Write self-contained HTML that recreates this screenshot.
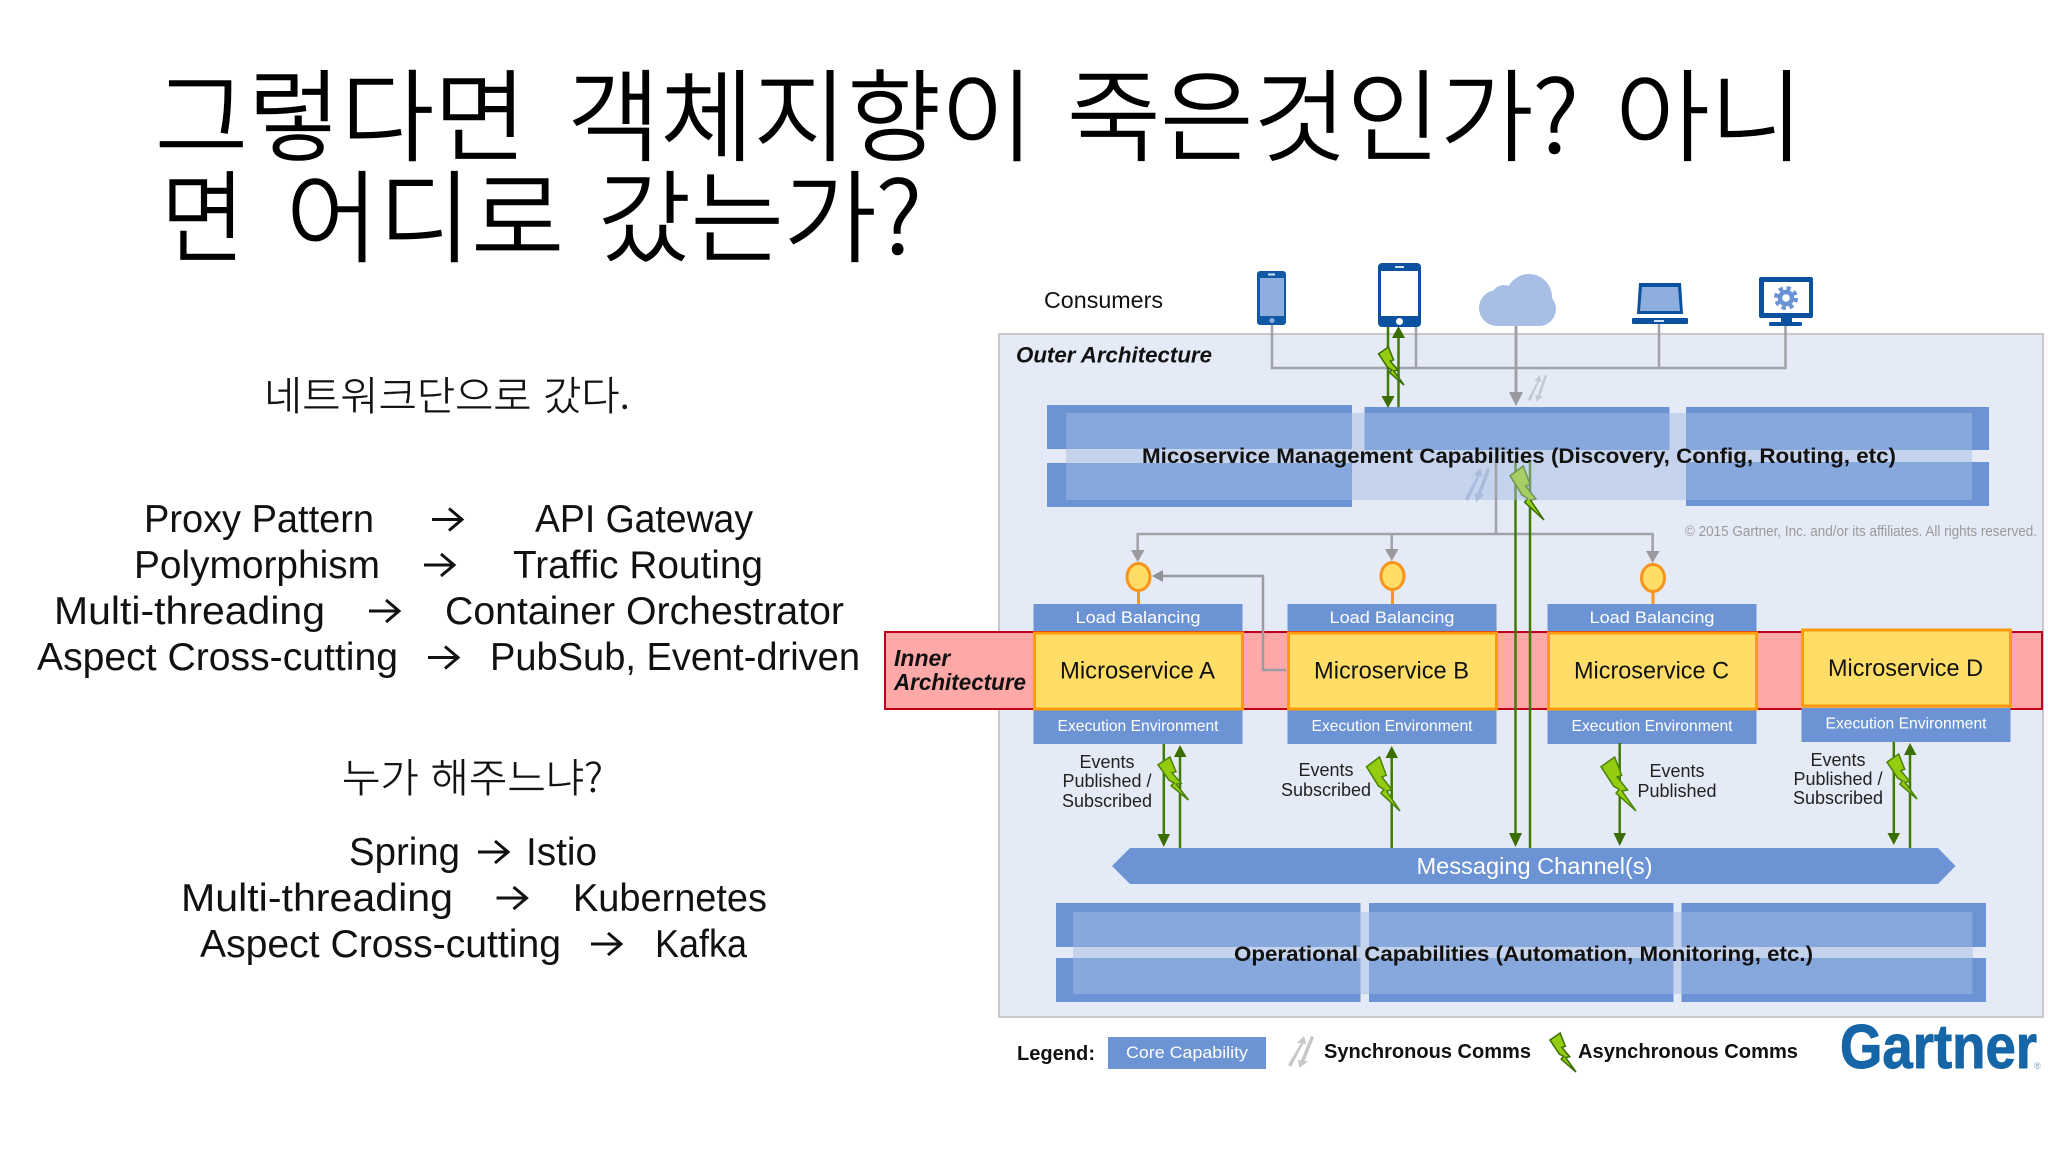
<!DOCTYPE html>
<html lang="ko"><head><meta charset="utf-8"><title>Microservice Architecture</title>
<style>
html,body{margin:0;padding:0;background:#fff;width:2048px;height:1152px;overflow:hidden}
svg{display:block}
text{font-family:"Liberation Sans",sans-serif}
.k{font-family:"Noto Sans CJK KR","NanumGothic",sans-serif;font-weight:300}
.t{font-size:100px;fill:#000;stroke:#000;stroke-width:1.6px}
.l{font-size:39px;fill:#111}
.lk{font-size:40px;fill:#111;stroke:#111;stroke-width:.4px}
.w{fill:#fff}
.lb{font-size:17px;fill:#fff}
.ex{font-size:16px;fill:#fff}
.ms{font-size:24px;fill:#111}
.ev{font-size:18px;fill:#222;text-anchor:middle}
.b{font-weight:bold;fill:#111}
</style></head><body>
<svg width="2048" height="1152" viewBox="0 0 2048 1152" xmlns="http://www.w3.org/2000/svg">
<defs>
<polygon id="bolt" points="0,.18 .39,0 .59,.34 .46,.37 .76,.61 .6,.63 1,1 .43,.67 .52,.6 .36,.54" vector-effect="non-scaling-stroke"/>
<g id="sync" fill="currentColor" stroke="none">
<polygon points="0,.9 .5,.22 .34,.22 .62,0 .7,.26 .58,.24 .12,.97"/>
<polygon points="1,.04 .64,.78 .78,.78 .44,1 .38,.74 .5,.76 .88,0"/>
</g>
<path id="arw" d="M0 0H29M17 -11L30 0L17 11" fill="none" stroke="#111" stroke-width="3"/>
</defs>
<rect width="2048" height="1152" fill="#fff"/>

<!-- Title -->
<text class="k t" x="155" y="153" textLength="372" lengthAdjust="spacingAndGlyphs">그렇다면</text>
<text class="k t" x="567" y="153" textLength="467" lengthAdjust="spacingAndGlyphs">객체지향이</text>
<text class="k t" x="1067" y="153" textLength="512" lengthAdjust="spacingAndGlyphs">죽은것인가?</text>
<text class="k t" x="1615" y="153" textLength="189" lengthAdjust="spacingAndGlyphs">아니</text>
<text class="k t" x="161" y="254" textLength="84" lengthAdjust="spacingAndGlyphs">면</text>
<text class="k t" x="286" y="254" textLength="278" lengthAdjust="spacingAndGlyphs">어디로</text>
<text class="k t" x="598" y="254" textLength="324" lengthAdjust="spacingAndGlyphs">갔는가?</text>

<!-- Left text -->
<text class="k lk" x="264" y="410" textLength="366" lengthAdjust="spacingAndGlyphs">네트워크단으로 갔다.</text>
<text class="l" x="144" y="532" textLength="230" lengthAdjust="spacingAndGlyphs">Proxy Pattern</text>
<use href="#arw" x="432" y="519.500"/>
<text class="l" x="535" y="532" textLength="218" lengthAdjust="spacingAndGlyphs">API Gateway</text>
<text class="l" x="134" y="578" textLength="246" lengthAdjust="spacingAndGlyphs">Polymorphism</text>
<use href="#arw" x="424" y="565"/>
<text class="l" x="513" y="578" textLength="250" lengthAdjust="spacingAndGlyphs">Traffic Routing</text>
<text class="l" x="54" y="624" textLength="271" lengthAdjust="spacingAndGlyphs">Multi-threading</text>
<use href="#arw" x="369" y="611"/>
<text class="l" x="445" y="624" textLength="399" lengthAdjust="spacingAndGlyphs">Container Orchestrator</text>
<text class="l" x="37" y="670" textLength="361" lengthAdjust="spacingAndGlyphs">Aspect Cross-cutting</text>
<use href="#arw" x="428" y="657.500"/>
<text class="l" x="490" y="670" textLength="370" lengthAdjust="spacingAndGlyphs">PubSub, Event-driven</text>
<text class="k lk" x="342" y="792" textLength="261" lengthAdjust="spacingAndGlyphs">누가 해주느냐?</text>
<text class="l" x="349" y="865" textLength="111" lengthAdjust="spacingAndGlyphs">Spring</text>
<use href="#arw" x="478" y="852"/>
<text class="l" x="526" y="865" textLength="71" lengthAdjust="spacingAndGlyphs">Istio</text>
<text class="l" x="181" y="911" textLength="272" lengthAdjust="spacingAndGlyphs">Multi-threading</text>
<use href="#arw" x="496.500" y="898"/>
<text class="l" x="573" y="911" textLength="194" lengthAdjust="spacingAndGlyphs">Kubernetes</text>
<text class="l" x="200" y="957" textLength="361" lengthAdjust="spacingAndGlyphs">Aspect Cross-cutting</text>
<use href="#arw" x="591" y="944"/>
<text class="l" x="655" y="957" textLength="92" lengthAdjust="spacingAndGlyphs">Kafka</text>

<!-- Outer architecture -->
<rect x="999" y="334" width="1044" height="683" fill="#e4eaf6" stroke="#c9c9c9" stroke-width="2"/>
<text x="1044" y="308" font-size="23" fill="#111" textLength="119" lengthAdjust="spacingAndGlyphs">Consumers</text>
<text x="1016" y="362.500" font-size="22" font-weight="bold" font-style="italic" fill="#111" textLength="196" lengthAdjust="spacingAndGlyphs">Outer Architecture</text>

<!-- Consumer icons -->
<rect x="1257" y="271" width="29" height="54" rx="3" fill="#1158a6"/>
<rect x="1260" y="278" width="24" height="38" fill="#8eaedd"/>
<circle cx="1272" cy="320.500" r="2.500" fill="#8eaedd"/>
<rect x="1268" y="273.500" width="7" height="2" fill="#cfe0f5"/>
<rect x="1378" y="263" width="43" height="64" rx="4" fill="#0a52a0"/>
<rect x="1381" y="271" width="37" height="45" fill="#fff"/>
<circle cx="1399.500" cy="321.500" r="3.500" fill="#fff"/>
<rect x="1395" y="266" width="9" height="2" fill="#cfe0f5"/>
<g fill="#a8bee4">
<circle cx="1504" cy="298" r="13"/><circle cx="1529" cy="297" r="23"/><circle cx="1497" cy="308" r="18"/><circle cx="1539" cy="309" r="17"/>
<rect x="1497" y="305" width="42" height="21"/>
</g>
<path d="M1639 283H1681L1683 314H1637Z" fill="#0a52a0"/>
<path d="M1642 287H1678L1680 311H1640Z" fill="#8eaedd"/>
<rect x="1632" y="318" width="56" height="6" rx="1" fill="#0a52a0"/>
<rect x="1654" y="320" width="10" height="2" fill="#cfe0f5"/>
<rect x="1759" y="277" width="54" height="41" rx="2" fill="#0a52a0"/>
<rect x="1764" y="282" width="45" height="31" fill="#fff"/>
<rect x="1781" y="318" width="11" height="5" fill="#0a52a0"/>
<rect x="1769" y="322" width="33" height="4" rx="1.500" fill="#0a52a0"/>
<circle cx="1786" cy="298" r="9.500" fill="none" stroke="#6a93d5" stroke-width="5" stroke-dasharray="4 3.500"/>
<circle cx="1786" cy="298" r="6" fill="none" stroke="#6a93d5" stroke-width="4.500"/>

<!-- Gray top connectors -->
<g fill="none" stroke="#a0a2a8" stroke-width="2.500">
<path d="M1272 325V368H1785.500V326"/>
<path d="M1416 327V368M1659 324V368"/>
<path d="M1516 326V396" stroke-width="3"/>
</g>
<polygon points="1509,392 1523,392 1516,406" fill="#9a9a9e"/>
<use href="#sync" transform="translate(1528,375) scale(19,27)" color="#c3c8d4"/>

<!-- Management capabilities -->
<rect x="1066" y="413" width="906" height="87" fill="#c5d3ec"/>
<g fill="#6c93d3">
<rect x="1047" y="405" width="305" height="44"/><rect x="1047" y="463" width="305" height="44"/>
<rect x="1364.500" y="407" width="305" height="43"/>
<rect x="1686" y="407" width="303" height="43"/><rect x="1686" y="462" width="303" height="44"/>
</g>
<g fill="#87a8dd">
<rect x="1066" y="413" width="286" height="36"/><rect x="1066" y="463" width="286" height="37"/>
<rect x="1364.500" y="413" width="305" height="37"/>
<rect x="1686" y="413" width="286" height="37"/><rect x="1686" y="462" width="286" height="38"/>
</g>

<!-- Top green links -->
<g stroke="#3f7a08" stroke-width="2.500" fill="none">
<path d="M1388 327V398"/><path d="M1398.500 338V407"/>
</g>
<polygon points="1381.500,396 1394.500,396 1388,408" fill="#3a6e00"/>
<polygon points="1392,338 1405,338 1398.500,326" fill="#3a6e00"/>
<use href="#bolt" transform="translate(1378.500,347) scale(25.500,38)" fill="#93cc10" stroke="#3a6e00" stroke-width="1.500"/>

<!-- Lower gray tree and central lines -->
<g fill="none" stroke="#a0a2a8" stroke-width="2.500">
<path d="M1496 460V534"/>
<path d="M1137.700 552V534H1652.600V552M1391.700 534V552"/>
</g>
<g fill="#9a9a9e">
<polygon points="1131,550 1144.500,550 1137.700,562"/>
<polygon points="1385,549 1398.500,549 1391.700,561"/>
<polygon points="1646,551 1659.500,551 1652.600,563"/>
</g>

<!-- Red band -->
<rect x="885" y="632" width="1157" height="77" fill="#ffa8a8" stroke="#c00018" stroke-width="2"/>
<path d="M1286 670H1263V576H1160" fill="none" stroke="#9a9ca2" stroke-width="2.500"/>
<polygon points="1163,570 1163,582 1152,576" fill="#8f9197"/>
<text x="894" y="666" font-size="23" font-weight="bold" font-style="italic" fill="#111">Inner</text>
<text x="894" y="690" font-size="23" font-weight="bold" font-style="italic" fill="#111" textLength="132" lengthAdjust="spacingAndGlyphs">Architecture</text>

<!-- Central green lines -->
<g stroke="#3f7a08" stroke-width="2.500" fill="none">
<path d="M1515.500 460V835"/><path d="M1530 460V849"/>
</g>
<polygon points="1509,833 1522,833 1515.500,847" fill="#3a6e00"/>
<use href="#bolt" transform="translate(1510,466) scale(34,54)" fill="#93cc10" stroke="#3a6e00" stroke-width="1.500"/>
<rect x="1500" y="460" width="52" height="40" fill="#c5d3ec" opacity=".38"/>
<use href="#sync" transform="translate(1465,468) scale(25,34)" color="#a9bbdc"/>
<text x="1142" y="463" font-size="21.500" class="b" textLength="754" lengthAdjust="spacingAndGlyphs">Micoservice Management Capabilities (Discovery, Config, Routing, etc)</text>
<text x="1685" y="536" font-size="14.500" fill="#9a9a9a" textLength="352" lengthAdjust="spacingAndGlyphs">© 2015 Gartner, Inc. and/or its affiliates. All rights reserved.</text>

<!-- Load balancers -->
<g stroke="#f7941d" stroke-width="3" fill="#ffdd66">
<path d="M1138.500 590V604M1392.500 589V604M1653 591V604" fill="none"/>
<ellipse cx="1138.500" cy="577" rx="11.500" ry="13.500"/><ellipse cx="1392.500" cy="576" rx="11.500" ry="13.500"/><ellipse cx="1653" cy="578" rx="11.500" ry="13.500"/>
</g>
<g fill="#6c93d3">
<rect x="1033.500" y="604" width="209" height="27"/><rect x="1287.500" y="604" width="209" height="27"/><rect x="1547.500" y="604" width="209" height="27"/>
<rect x="1033.500" y="710" width="209" height="34"/><rect x="1287.500" y="710" width="209" height="34"/><rect x="1547.500" y="710" width="209" height="34"/><rect x="1801.500" y="708" width="209" height="34"/>
</g>
<g class="lb" text-anchor="middle">
<text class="lb" x="1138" y="623" textLength="125" lengthAdjust="spacingAndGlyphs">Load Balancing</text>
<text class="lb" x="1392" y="623" textLength="125" lengthAdjust="spacingAndGlyphs">Load Balancing</text>
<text class="lb" x="1652" y="623" textLength="125" lengthAdjust="spacingAndGlyphs">Load Balancing</text>
</g>
<g fill="#ffdd66" stroke="#ff9a0a" stroke-width="3">
<rect x="1034.500" y="633" width="208" height="76"/><rect x="1288.500" y="633" width="208" height="76"/><rect x="1548.500" y="633" width="208" height="76"/><rect x="1802.500" y="630" width="208" height="76"/>
</g>
<g text-anchor="middle">
<text class="ms" x="1137.500" y="678.500" textLength="155" lengthAdjust="spacingAndGlyphs">Microservice A</text>
<text class="ms" x="1391.500" y="678.500" textLength="155" lengthAdjust="spacingAndGlyphs">Microservice B</text>
<text class="ms" x="1651.500" y="678.500" textLength="155" lengthAdjust="spacingAndGlyphs">Microservice C</text>
<text class="ms" x="1905.500" y="676" textLength="155" lengthAdjust="spacingAndGlyphs">Microservice D</text>
<text class="ex" x="1138" y="731" textLength="161" lengthAdjust="spacingAndGlyphs">Execution Environment</text>
<text class="ex" x="1392" y="731" textLength="161" lengthAdjust="spacingAndGlyphs">Execution Environment</text>
<text class="ex" x="1652" y="731" textLength="161" lengthAdjust="spacingAndGlyphs">Execution Environment</text>
<text class="ex" x="1906" y="728.500" textLength="161" lengthAdjust="spacingAndGlyphs">Execution Environment</text>
</g>

<!-- Event links -->
<g stroke="#3f7a08" stroke-width="2.500" fill="none">
<path d="M1163.800 744V836"/><path d="M1180 757V849"/>
<path d="M1391.700 758V850"/>
<path d="M1619.700 743V835"/>
<path d="M1893.800 742V835"/><path d="M1910 755V848"/>
</g>
<g fill="#3a6e00">
<polygon points="1157.500,834 1170,834 1163.800,847"/>
<polygon points="1174,757 1186.500,757 1180,745"/>
<polygon points="1385.500,758 1398,758 1391.700,746"/>
<polygon points="1613.500,833 1626,833 1619.700,846"/>
<polygon points="1887.500,833 1900,833 1893.800,845"/>
<polygon points="1904,755 1916.500,755 1910,743"/>
</g>
<g fill="#93cc10" stroke="#4b8208" stroke-width="1.500">
<use href="#bolt" transform="translate(1158,757) scale(30.500,43)"/>
<use href="#bolt" transform="translate(1366.500,757) scale(33.500,54)"/>
<use href="#bolt" transform="translate(1601,757) scale(35,54)"/>
<use href="#bolt" transform="translate(1887,754) scale(30,45)"/>
</g>
<text class="ev" x="1107" y="768">Events</text><text class="ev" x="1107" y="787">Published /</text><text class="ev" x="1107" y="807">Subscribed</text>
<text class="ev" x="1326" y="776">Events</text><text class="ev" x="1326" y="796">Subscribed</text>
<text class="ev" x="1677" y="777">Events</text><text class="ev" x="1677" y="797">Published</text>
<text class="ev" x="1838" y="766">Events</text><text class="ev" x="1838" y="785">Published /</text><text class="ev" x="1838" y="804">Subscribed</text>

<!-- Messaging -->
<polygon points="1112,866 1130,848 1938,848 1955.500,866 1938,884 1130,884" fill="#6c93d3"/>
<text x="1416.500" y="874" font-size="23" class="w" textLength="236" lengthAdjust="spacingAndGlyphs">Messaging Channel(s)</text>

<!-- Operational -->
<rect x="1073" y="912" width="900" height="82" fill="#c5d3ec"/>
<g fill="#6c93d3">
<rect x="1056" y="903" width="304.500" height="44"/><rect x="1056" y="958" width="304.500" height="44"/>
<rect x="1369" y="903" width="304.500" height="44"/><rect x="1369" y="958" width="304.500" height="44"/>
<rect x="1681.500" y="903" width="304.500" height="44"/><rect x="1681.500" y="958" width="304.500" height="44"/>
</g>
<g fill="#87a8dd">
<rect x="1073" y="912" width="287.500" height="35"/><rect x="1073" y="958" width="287.500" height="36"/>
<rect x="1369" y="912" width="304.500" height="35"/><rect x="1369" y="958" width="304.500" height="36"/>
<rect x="1681.500" y="912" width="291" height="35"/><rect x="1681.500" y="958" width="291" height="36"/>
</g>
<text x="1234" y="961" font-size="21.500" class="b" textLength="579" lengthAdjust="spacingAndGlyphs">Operational Capabilities (Automation, Monitoring, etc.)</text>

<!-- Legend -->
<text x="1017" y="1060" font-size="20" class="b" textLength="78" lengthAdjust="spacingAndGlyphs">Legend:</text>
<rect x="1108" y="1037" width="158" height="32" fill="#6c93d3"/>
<text x="1126" y="1058" font-size="17" class="w" textLength="122" lengthAdjust="spacingAndGlyphs">Core Capability</text>
<use href="#sync" transform="translate(1288,1036) scale(26,32)" color="#c8c8c8"/>
<text x="1324" y="1058" font-size="20" class="b" textLength="207" lengthAdjust="spacingAndGlyphs">Synchronous Comms</text>
<use href="#bolt" transform="translate(1550,1033) scale(26,39)" fill="#93cc10" stroke="#3a6e00" stroke-width="1.500"/>
<text x="1578" y="1058" font-size="20" class="b" textLength="220" lengthAdjust="spacingAndGlyphs">Asynchronous Comms</text>
<text x="1840" y="1068" font-size="62" font-weight="bold" fill="#1565a7" stroke="#1565a7" stroke-width="1" textLength="197" lengthAdjust="spacingAndGlyphs">Gartner</text>
<text x="2034" y="1069" font-size="9" fill="#6f9cc4">®</text>
</svg>
</body></html>
